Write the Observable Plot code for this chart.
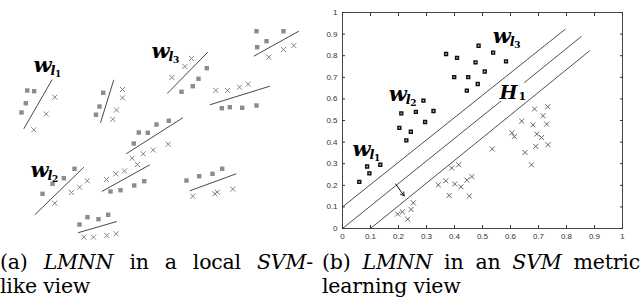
<!DOCTYPE html>
<html><head><meta charset="utf-8">
<script src="https://cdn.jsdelivr.net/npm/d3@7"></script>
<script src="https://cdn.jsdelivr.net/npm/@observablehq/plot@0.6"></script>
<style>
body{margin:0;background:#fff;width:641px;height:301px;overflow:hidden;position:relative;}
#left{position:absolute;left:0;top:0;}
#right{position:absolute;left:320px;top:0;}
.cap{position:absolute;font-family:"DejaVu Serif",serif;font-size:20.5px;line-height:24px;color:#000;white-space:nowrap;letter-spacing:-0.2px;}
.j{text-align:justify;text-align-last:justify;}
</style></head><body>
<div id="left"></div><div id="right"></div>
<div class="cap" style="left:0;top:250px;width:313px"><div class="j">(a) <i>LMNN</i> in a local <i>SVM</i>-</div><div>like view</div></div>
<div class="cap" style="left:322px;top:250px;width:318px"><div class="j">(b) <i>LMNN</i> in an <i>SVM</i> metric</div><div>learning view</div></div>
<script>
// ---- panel (a): schematic, coordinates in picture units (x right, y down)
const leftSquares = [
  [26.7,90],[33.7,90.7],[25.3,102.7],[21,112],
  [102.7,92.3],[99,106],[95.5,114.2],
  [206.3,67.7],[198,78.3],[192.3,85.7],[181,91.3],
  [256,30.7],[283,30.7],[256.7,46.7],[266,40.7],
  [221.3,107.7],[229.3,106.7],[241.7,107.3],[256,105],
  [74,168.3],[63.3,177.7],[52,183.3],[42,193.3],
  [156,124],[147.3,132.3],[138.3,132],[133.3,143],[168.3,120.3],
  [110,191],[120,189.7],[133.7,185],[143.7,180.7],
  [79,224],[87,216.7],[98,218.7],[107.7,214.3],
  [186,180],[198.7,175.7],[212,173.3],[221.7,168.3]
];
const leftCrosses = [
  [54.3,96.7],[45.7,113.5],[33.3,129.3],
  [122,89],[122,97.3],[116,109.5],[112.3,118.8],
  [191,58],[184.3,66],[171.3,77],
  [268.3,56.7],[283,49],[293.3,45],
  [215.3,90],[227,90],[239,86.7],[247.7,83.7],
  [86.7,180.3],[79,186.7],[71,192],[54.3,202.7],
  [152.7,149.5],[142.7,153.3],[131.7,157.7],[167.7,143.7],
  [137,164],[106,179],[115.3,173.3],[124,170.3],
  [83.3,236.7],[93,236.7],[106.3,235],[115.7,233.3],
  [192.3,195.7],[214.3,193.3],[216.7,191.7],[232.3,188.7]
];
const leftLines = [
  [51.7,79,23.3,128.3],[113.3,79.3,100,122.3],[207.3,51.7,166.7,93],
  [253.3,55.7,298.3,30.7],[209.3,104.3,269.3,85.7],[83.3,166.7,34.3,214.3],
  [125.7,153.3,182.3,117.3],[101.3,191,149.3,164.3],[77.3,232.3,116.3,221],
  [189.3,190.3,235.7,173.3]
];
const leftLabels = [[33,71,"1"],[30,176,"2"],[151,57,"3"]];

// ---- panel (b): metric learning plot
const rightSquares = [
  [0.06,0.216],[0.088,0.287],[0.096,0.255],[0.135,0.295],
  [0.203,0.466],[0.228,0.408],[0.244,0.448],[0.295,0.493],
  [0.21,0.533],[0.262,0.54],[0.289,0.592],[0.325,0.544],
  [0.37,0.808],[0.409,0.79],[0.399,0.701],[0.449,0.701],[0.444,0.638],
  [0.483,0.669],[0.475,0.769],[0.486,0.846],[0.508,0.727],[0.538,0.814],[0.584,0.774]
];
const rightCrosses = [
  [0.197,0.067],[0.214,0.077],[0.233,0.043],[0.245,0.088],[0.253,0.119],
  [0.342,0.202],[0.369,0.221],[0.381,0.153],[0.39,0.28],[0.415,0.295],
  [0.401,0.206],[0.423,0.193],[0.444,0.224],[0.462,0.24],[0.453,0.15],
  [0.535,0.368],[0.605,0.443],[0.614,0.425],[0.64,0.497],[0.652,0.352],
  [0.675,0.295],[0.68,0.48],[0.686,0.553],[0.69,0.38],[0.694,0.437],
  [0.711,0.421],[0.716,0.522],[0.729,0.483],[0.733,0.564],[0.734,0.388]
];
const rightLines = [
  [0,0.1,0.796,0.923],
  [0,0,0.566,0.59],[0.649,0.675,0.853,0.889],
  [0.1,0,0.883,0.823]
];
const rightArrow = [[0.19,0.206,0.22,0.151]];
const rightLabels = [[0.036,0.337,"1"],[0.165,0.591,"2"],[0.537,0.861,"3"]];
const hLabel = [[0.561,0.599,"1"]];
const tickValues = [0,0.1,0.2,0.3,0.4,0.5,0.6,0.7,0.8,0.9,1];

const mathFont = "DejaVu Serif";
function wLabel(data, fx, fy) {
  return [
    Plot.text(data, {x: fx, y: fy, text: () => "w", textAnchor: "start", lineAnchor: "bottom",
      fontSize: 21, fontStyle: "italic", fontWeight: "bold", fontFamily: mathFont, fill: "#000"}),
    Plot.text(data, {x: fx, y: fy, text: () => "l", dx: 17, dy: 3, textAnchor: "start", lineAnchor: "bottom",
      fontSize: 13, fontStyle: "italic", fontWeight: "bold", fontFamily: mathFont, fill: "#000"}),
    Plot.text(data, {x: fx, y: fy, text: d => d[2], dx: 21.5, dy: 5, textAnchor: "start", lineAnchor: "bottom",
      fontSize: 9, fontWeight: "bold", fontFamily: mathFont, fill: "#000"})
  ];
}

const left = Plot.plot({
  width: 320, height: 245, margin: 0,
  x: {domain: [0, 320], range: [0, 320], axis: null},
  y: {domain: [0, 245], range: [0, 245], axis: null},
  marks: [
    Plot.link(leftLines, {x1: d => d[0], y1: d => d[1], x2: d => d[2], y2: d => d[3], stroke: "#333", strokeWidth: 0.9}),
    Plot.dot(leftSquares, {x: d => d[0], y: d => d[1], symbol: "square", r: 2.5, fill: "#8c8c8c", stroke: "none"}),
    Plot.dot(leftCrosses, {x: d => d[0], y: d => d[1], symbol: "times", r: 2.4, stroke: "#777", strokeWidth: 0.9}),
    ...wLabel(leftLabels, d => d[0], d => d[1])
  ]
});
document.getElementById("left").append(left);

const fmt = d => String(d);
const right = Plot.plot({
  width: 321, height: 245, marginLeft: 22, marginRight: 19, marginTop: 12, marginBottom: 17,
  style: {fontFamily: "Liberation Sans", fontSize: "8px", color: "#333"},
  x: {domain: [0, 1]},
  y: {domain: [0, 1]},
  marks: [
    Plot.frame({stroke: "#333", strokeWidth: 0.9}),
    Plot.axisX(tickValues, {anchor: "bottom", tickSize: 0, tickPadding: 5, tickFormat: fmt, label: null}),
    Plot.axisY(tickValues, {anchor: "left", tickSize: 0, tickPadding: 5, tickFormat: fmt, label: null}),
    Plot.axisX(tickValues, {anchor: "bottom", tickSize: -3, tickFormat: () => "", label: null}),
    Plot.axisX(tickValues, {anchor: "top", tickSize: -3, tickFormat: () => "", label: null}),
    Plot.axisY(tickValues, {anchor: "left", tickSize: -3, tickFormat: () => "", label: null}),
    Plot.axisY(tickValues, {anchor: "right", tickSize: -3, tickFormat: () => "", label: null}),
    Plot.link(rightLines, {x1: d => d[0], y1: d => d[1], x2: d => d[2], y2: d => d[3], stroke: "#222", strokeWidth: 0.8}),
    Plot.arrow(rightArrow, {x1: d => d[0], y1: d => d[1], x2: d => d[2], y2: d => d[3], stroke: "#111", strokeWidth: 1, headLength: 6, bend: 0}),
    Plot.dot(rightSquares, {x: d => d[0], y: d => d[1], symbol: "square", r: 1.6, fill: "#ddd", stroke: "#111", strokeWidth: 1.5}),
    Plot.dot(rightCrosses, {x: d => d[0], y: d => d[1], symbol: "times", r: 2.4, stroke: "#555", strokeWidth: 0.9}),
    ...wLabel(rightLabels, d => d[0], d => d[1]),
    Plot.text(hLabel, {x: d => d[0], y: d => d[1], text: () => "H", textAnchor: "start", lineAnchor: "bottom",
      fontSize: 19, fontStyle: "italic", fontWeight: "bold", fontFamily: mathFont, fill: "#000"}),
    Plot.text(hLabel, {x: d => d[0], y: d => d[1], text: d => d[2], dx: 19, dy: 1, textAnchor: "start", lineAnchor: "bottom",
      fontSize: 11, fontWeight: "bold", fontFamily: mathFont, fill: "#000"})
  ]
});
document.getElementById("right").append(right);
</script>
</body></html>
